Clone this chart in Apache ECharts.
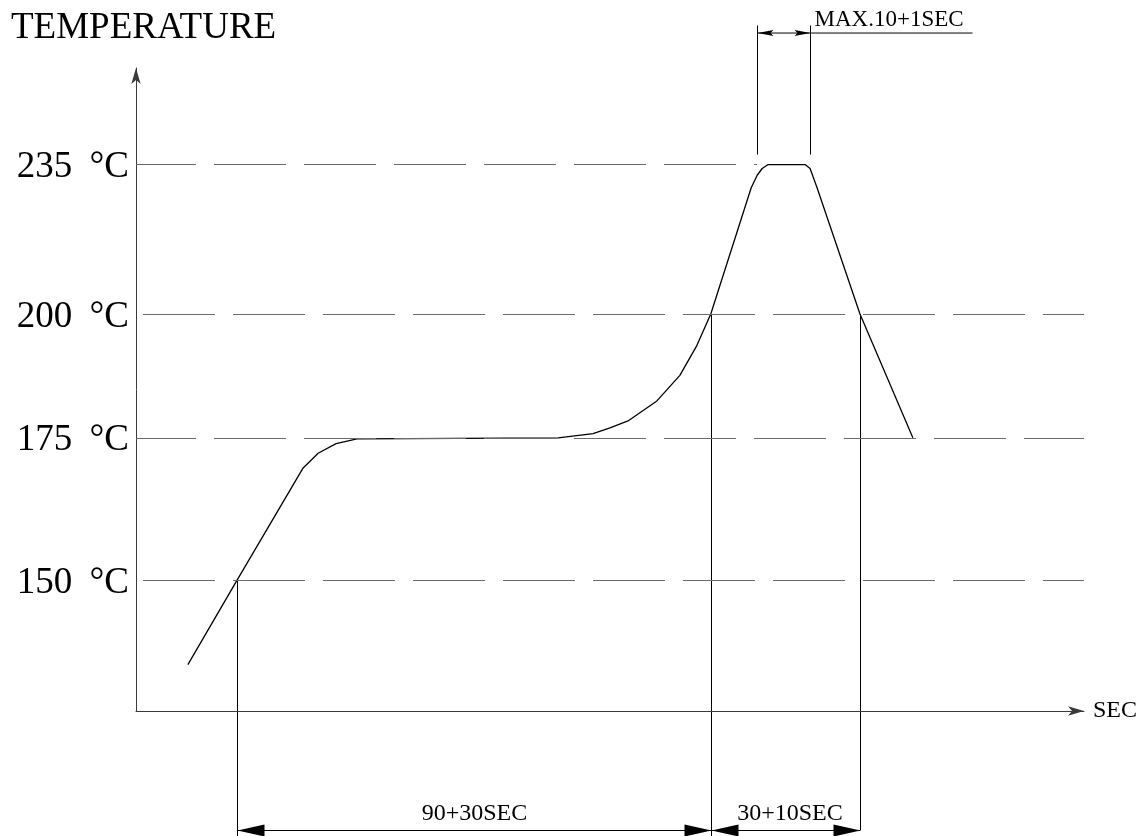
<!DOCTYPE html>
<html>
<head>
<meta charset="utf-8">
<script src="https://cdn.jsdelivr.net/npm/echarts@6/dist/echarts.min.js"></script>
<style>
html,body{margin:0;padding:0;background:#fff;}
#c{width:1147px;height:836px;}
</style>
</head>
<body>
<div id="c"></div>
<script>
// ---- data ----
const timeSec = [10.4, 20.2, 33.5, 36.5, 40.1, 44.3, 84.6, 91.6, 95.0, 98.6, 104.4, 109.0, 112.4, 115.2, 123.3, 124.5, 125.5, 126.7, 134.1, 135.1, 136.5, 145.1, 155.7];
const tempC   = [137, 150, 169.4, 172.1, 173.9, 174.8, 175, 175.8, 176.9, 178.2, 182.1, 187.2, 193.3, 200, 229.2, 232.3, 234, 235, 235, 234, 229.2, 200, 175];
const levels = [235, 200, 175, 150];
const levelLabels = ['235 °C', '200 °C', '175 °C', '150 °C'];
const spanLabels = ['90+30SEC', '30+10SEC', 'MAX.10+1SEC'];
const axisTitles = ['TEMPERATURE', 'SEC'];
const axisRangeX = [0, 190];
const axisRangeY = [130.32, 260.8];

// ---- styles ----
const FONT = '"Liberation Serif", "Times New Roman", serif';
const dashPhase = [12, 83, 12, 83];

const chart = echarts.init(document.getElementById('c'), null, {renderer: 'canvas'});

const peakLevel = Math.max(...levels);
const iPeakStart = tempC.findIndex(v => v >= 232);
let iPeakEnd = iPeakStart;
tempC.forEach((v, i) => { if (v >= 232) iPeakEnd = i; });

const richLabel = s => {
  const k = s.indexOf(' ');
  return '{n|' + s.slice(0, k + 1) + '}{u|' + s.slice(k + 1) + '}';
};

const markData = levels.map((v, i) => {
  const endT = v === peakLevel ? timeSec[iPeakStart] : axisRangeX[1];
  return [
    {
      coord: [axisRangeX[0], v],
      label: {formatter: richLabel(levelLabels[i])},
      lineStyle: {dashOffset: dashPhase[i]}
    },
    {coord: [endT, v]}
  ];
});

chart.setOption({
  animation: false,
  backgroundColor: '#fff',
  grid: {left: 136, right: 63, top: 68, bottom: 125},
  xAxis: {
    type: 'value', min: axisRangeX[0], max: axisRangeX[1],
    axisLine: {show: true, onZero: false, symbol: ['none', 'arrow'], symbolSize: [7, 16],
      lineStyle: {color: '#3a3a3a', width: 1}},
    axisTick: {show: false}, axisLabel: {show: false}, splitLine: {show: false},
    name: axisTitles[1], nameLocation: 'end', nameGap: 9,
    nameTextStyle: {fontFamily: FONT, fontSize: 24, color: '#000', verticalAlign: 'middle', padding: [0, 0, 6, 0]}
  },
  yAxis: {
    type: 'log', logBase: 10, min: axisRangeY[0], max: axisRangeY[1],
    axisLine: {show: true, onZero: false, symbol: ['none', 'arrow'], symbolSize: [7, 16],
      lineStyle: {color: '#3a3a3a', width: 1}},
    axisTick: {show: false}, axisLabel: {show: false}, splitLine: {show: false}
  },
  series: [{
    type: 'line',
    data: timeSec.map((t, i) => [t, tempC[i]]),
    showSymbol: false,
    symbol: 'none',
    smooth: false,
    lineStyle: {color: '#000', width: 1.3},
    z: 3,
    markLine: {
      silent: true,
      symbol: ['none', 'none'],
      animation: false,
      lineStyle: {color: '#6a6a6a', width: 1.2, type: [72, 18]},
      label: {
        show: true, position: 'start', distance: 7, offset: [0, 3], color: '#000',
        fontFamily: FONT, fontSize: 37,
        rich: {
          n: {fontFamily: FONT, fontSize: 37, color: '#000'},
          u: {fontFamily: FONT, fontSize: 37, color: '#000', padding: [0, 0, 0, 8]}
        }
      },
      data: markData
    }
  }]
});

// ---- CAD style dimension annotations, positioned from the axes ----
const P = (t, T) => chart.convertToPixel({gridIndex: 0}, [t, T]);
const origin = P(axisRangeX[0], axisRangeY[0]);
const H = chart.getHeight();

const t150 = timeSec[tempC.indexOf(150)];
const t200r = timeSec[tempC.indexOf(200)];
const t200f = timeSec[tempC.lastIndexOf(200)];
const p150 = P(t150, 150);
const p200r = P(t200r, 200);
const p200f = P(t200f, 200);
const pA = P(timeSec[iPeakStart], peakLevel);
const pB = P(timeSec[iPeakEnd], peakLevel);

const dimY = origin[1] + 119;
const topY = pA[1] - 132;

const L = (x1, y1, x2, y2) => ({type: 'line', silent: true,
  shape: {x1, y1, x2, y2}, style: {stroke: '#000', lineWidth: 1}});
const tri = (x, y, dir, len, hw) => ({type: 'polygon', silent: true,
  shape: {points: [[x, y], [x - dir * len, y - hw], [x - dir * len, y + hw]]},
  style: {fill: '#000'}});
const dart = (x, y, dir) => ({type: 'polygon', silent: true,
  shape: {points: [[x, y], [x - dir * 16, y - 3], [x - dir * 13, y], [x - dir * 16, y + 3]]},
  style: {fill: '#000'}});
const T = (text, x, y, size, align, valign) => ({type: 'text', silent: true, x, y,
  style: {text, fill: '#000', font: size + 'px ' + FONT, align, verticalAlign: valign}});

const x150 = Math.round(p150[0]) + 0.5;
const x200r = Math.round(p200r[0]) + 0.5;
const x200f = Math.round(p200f[0]) + 0.5;
const xA = Math.round(pA[0]) + 0.5;
const xB = Math.round(pB[0]) + 0.5;

const graphics = [
  T(axisTitles[0], 11, 10, 37, 'left', 'top'),
  // bottom dimension chain
  L(x150, p150[1], x150, H),
  L(x200r, p200r[1], x200r, H),
  L(x200f, p200f[1], x200f, dimY),
  L(x150, dimY + 0.5, x200f, dimY + 0.5),
  tri(x150, dimY + 0.5, -1, 27, 6),
  tri(x200r, dimY + 0.5, 1, 27, 6),
  tri(x200r, dimY + 0.5, -1, 27, 6),
  tri(x200f, dimY + 0.5, 1, 27, 6),
  T(spanLabels[0], (x150 + x200r) / 2, dimY - 4, 24, 'center', 'bottom'),
  T(spanLabels[1], (x200r + x200f) / 2 + 4, dimY - 4, 24, 'center', 'bottom'),
  // peak dwell dimension
  L(xA, pA[1] - 10, xA, topY - 7),
  L(xB, pB[1] - 10, xB, topY - 7),
  L(xA, topY + 0.5, xB + 162, topY + 0.5),
  dart(xA, topY + 0.5, -1),
  dart(xB, topY + 0.5, 1),
  T(spanLabels[2], xB + 4, topY - 1, 23, 'left', 'bottom')
];

chart.setOption({graphic: graphics});
</script>
</body>
</html>
